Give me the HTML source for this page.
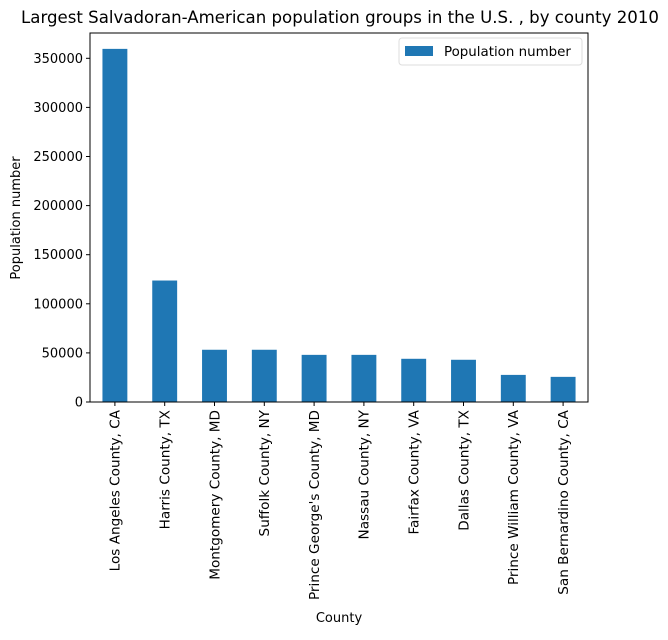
<!DOCTYPE html>
<html><head><meta charset="utf-8"><style>
body{margin:0;background:#fff;}
svg text{font-family:"DejaVu Sans","Liberation Sans",sans-serif;fill:#000;}
</style></head><body>
<svg id="chart" width="668" height="635">
<text x="340" y="23" font-size="16.6" text-anchor="middle">Largest Salvadoran-American population groups in the U.S. , by county 2010</text>
<g id="plot"></g>
<text x="339" y="622" font-size="13" text-anchor="middle">County</text>
<text transform="translate(20,218) rotate(-90)" font-size="13" text-anchor="middle">Population number</text>
<g>
<rect x="399" y="38" width="183" height="27" fill="#fff" stroke="#ddd" rx="3"></rect>
<rect x="405" y="46" width="28" height="10" fill="#1f77b4"></rect>
<text x="444" y="56" font-size="13.4">Population number</text>
</g>
</svg>
<script>
const categories=["Los Angeles County, CA","Harris County, TX","Montgomery County, MD","Suffolk County, NY","Prince George's County, MD","Nassau County, NY","Fairfax County, VA","Dallas County, TX","Prince William County, VA","San Bernardino County, CA"];
const values=[359600,123700,53200,53200,48000,48000,44000,43000,27600,25600];
const yTicks=[0,50000,100000,150000,200000,250000,300000,350000];
const L=90,R=588,T=33,B=402;
const y=v=>B-(v/350000)*(B-58.3);
const band=(R-L)/categories.length;
const x=i=>L+band*(i+0.5);
const g=document.getElementById('plot');
const NS='http://www.w3.org/2000/svg';
function mk(t,a){const e=document.createElementNS(NS,t);for(const k in a)e.setAttribute(k,a[k]);g.appendChild(e);return e;}
categories.forEach((c,i)=>{
 const r=mk('rect',{x:x(i)-band/4,y:y(values[i]),width:band/2,height:B-y(values[i]),fill:'#1f77b4'});
 
 
 const tk=mk('line',{x1:x(i),x2:x(i),y1:B,y2:B+4,stroke:'#000'});
 
 
 const t=mk('text',{transform:`translate(${x(i)+4.8},${B+8}) rotate(-90)`,'font-size':13.6,'text-anchor':'end'});
 t.textContent=c;
 
 
});
yTicks.forEach(v=>{
 const tk=mk('line',{x1:L-4,x2:L,y1:y(v),y2:y(v),stroke:'#000'});
 
 
 const t=mk('text',{x:L-7,y:y(v)+4.5,'font-size':13,'text-anchor':'end'});
 t.textContent=v;
 
 
});
const fr=mk('rect',{x:L,y:T,width:R-L,height:B-T,fill:'none',stroke:'#000','stroke-width':1});


</script>
</body></html>
